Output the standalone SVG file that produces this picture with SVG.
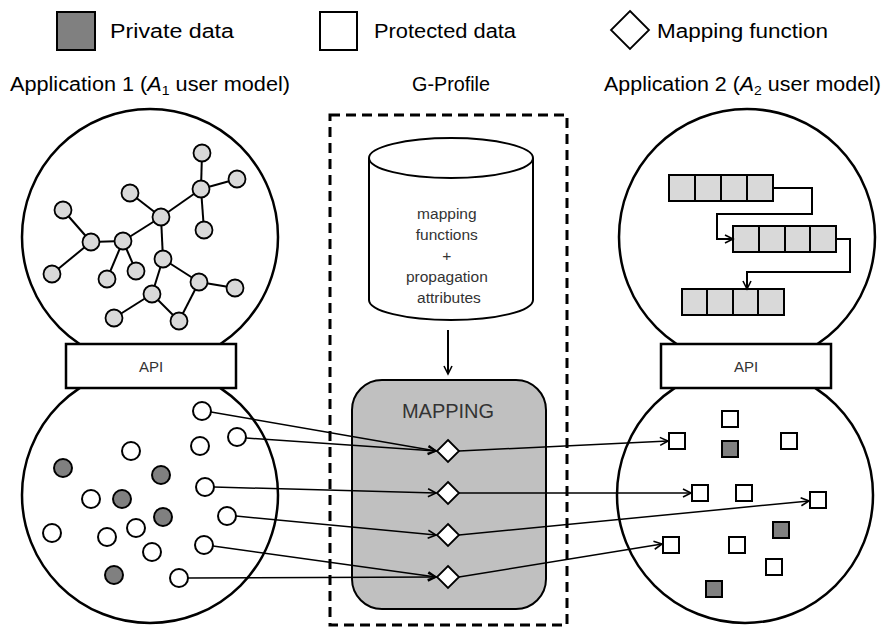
<svg xmlns="http://www.w3.org/2000/svg" width="886" height="627" viewBox="0 0 886 627">
  <defs>
    <marker id="arrow" markerUnits="userSpaceOnUse" markerWidth="12" markerHeight="12" refX="10" refY="6" orient="auto">
      <path d="M2,2 L10,6 L2,10" fill="none" stroke="#000" stroke-width="1.6"/>
    </marker>
    <style>
      .label { font-family: "Liberation Sans", Arial, sans-serif; font-size: 20px; fill: #000; }
      .small { font-family: "Liberation Sans", Arial, sans-serif; fill: #333; text-anchor: middle; }
      .api-t { font-size: 15px; }
      .db-t { font-size: 15.5px; }
      .map-t { font-size: 20px; }
      .globe { fill: #fff; stroke: #000; stroke-width: 2.5; }
      .api { fill: #fff; stroke: #000; stroke-width: 2.5; }
      .gnode { fill: #d9d9d9; stroke: #000; stroke-width: 1.8; }
      .gedge { stroke: #000; stroke-width: 2; }
      .cell { fill: #d9d9d9; stroke: #000; stroke-width: 2; }
      .prot { fill: #fff; stroke: #000; stroke-width: 2; }
      .priv { fill: #808080; stroke: #000; stroke-width: 2; }
      .link { fill: none; stroke: #000; stroke-width: 1.5; }
      .link2 { fill: none; stroke: #000; stroke-width: 2; }
      .diamond { fill: #fff; stroke: #000; stroke-width: 1.8; }
    </style>
  </defs>

  <!-- legend -->
  <g id="legend">
    <rect x="57" y="12" width="38" height="38" class="priv"/>
    <text x="110" y="38" class="label" textLength="124" lengthAdjust="spacingAndGlyphs">Private data</text>
    <rect x="320" y="12" width="37" height="38" class="prot"/>
    <text x="374" y="38" class="label" textLength="142" lengthAdjust="spacingAndGlyphs">Protected data</text>
    <polygon points="630,11 649,30 630,49 611,30" class="diamond"/>
    <text x="657" y="38" class="label" textLength="171" lengthAdjust="spacingAndGlyphs">Mapping function</text>
  </g>

  <!-- column titles -->
  <g id="titles">
    <text x="10" y="91" class="label" textLength="280" lengthAdjust="spacingAndGlyphs">Application 1 (<tspan font-style="italic">A</tspan><tspan font-size="13" dy="4">1</tspan><tspan dy="-4"> user model)</tspan></text>
    <text x="412" y="91" class="label" textLength="78" lengthAdjust="spacingAndGlyphs">G-Profile</text>
    <text x="604" y="91" class="label" textLength="277" lengthAdjust="spacingAndGlyphs">Application 2 (<tspan font-style="italic">A</tspan><tspan font-size="13" dy="4">2</tspan><tspan dy="-4"> user model)</tspan></text>
  </g>

  <!-- application 1 -->
  <g id="app1-model">
    <circle cx="150" cy="237" r="128" class="globe"/>
    <g id="app1-graph-edges">
      <line x1="202" y1="153" x2="201" y2="189" class="gedge"/>
      <line x1="237" y1="179" x2="201" y2="189" class="gedge"/>
      <line x1="201" y1="189" x2="204" y2="230" class="gedge"/>
      <line x1="201" y1="189" x2="161" y2="217" class="gedge"/>
      <line x1="130" y1="193" x2="161" y2="217" class="gedge"/>
      <line x1="161" y1="217" x2="123" y2="241" class="gedge"/>
      <line x1="161" y1="217" x2="163" y2="259" class="gedge"/>
      <line x1="63" y1="210" x2="91" y2="242" class="gedge"/>
      <line x1="91" y1="242" x2="123" y2="241" class="gedge"/>
      <line x1="91" y1="242" x2="52" y2="274" class="gedge"/>
      <line x1="123" y1="241" x2="107" y2="279" class="gedge"/>
      <line x1="123" y1="241" x2="136" y2="271" class="gedge"/>
      <line x1="163" y1="259" x2="199" y2="282" class="gedge"/>
      <line x1="163" y1="259" x2="152" y2="294" class="gedge"/>
      <line x1="199" y1="282" x2="235" y2="288" class="gedge"/>
      <line x1="199" y1="282" x2="179" y2="321" class="gedge"/>
      <line x1="152" y1="294" x2="114" y2="318" class="gedge"/>
      <line x1="152" y1="294" x2="179" y2="321" class="gedge"/>
    </g>
    <g id="app1-graph-nodes">
      <circle cx="202" cy="153" r="8.5" class="gnode"/>
      <circle cx="237" cy="179" r="8.5" class="gnode"/>
      <circle cx="201" cy="189" r="8.5" class="gnode"/>
      <circle cx="204" cy="230" r="8.5" class="gnode"/>
      <circle cx="130" cy="193" r="8.5" class="gnode"/>
      <circle cx="161" cy="217" r="8.5" class="gnode"/>
      <circle cx="63" cy="210" r="8.5" class="gnode"/>
      <circle cx="91" cy="242" r="8.5" class="gnode"/>
      <circle cx="123" cy="241" r="8.5" class="gnode"/>
      <circle cx="52" cy="274" r="8.5" class="gnode"/>
      <circle cx="107" cy="279" r="8.5" class="gnode"/>
      <circle cx="136" cy="271" r="8.5" class="gnode"/>
      <circle cx="163" cy="259" r="8.5" class="gnode"/>
      <circle cx="199" cy="282" r="8.5" class="gnode"/>
      <circle cx="235" cy="288" r="8.5" class="gnode"/>
      <circle cx="152" cy="294" r="8.5" class="gnode"/>
      <circle cx="114" cy="318" r="8.5" class="gnode"/>
      <circle cx="179" cy="321" r="8.5" class="gnode"/>
    </g>
  </g>
  <g id="app1-data-globe">
    <circle cx="150" cy="495" r="128" class="globe"/>
  </g>
  <g id="app1-api">
    <rect x="66" y="344" width="170" height="44" class="api"/>
    <text x="151" y="372" class="small api-t">API</text>
  </g>

  <!-- application 2 -->
  <g id="app2-model">
    <circle cx="747" cy="237" r="128" class="globe"/>
    <g id="app2-list1">
      <rect x="669" y="175" width="26" height="26" class="cell"/>
      <rect x="695" y="175" width="26" height="26" class="cell"/>
      <rect x="721" y="175" width="26" height="26" class="cell"/>
      <rect x="747" y="175" width="26" height="26" class="cell"/>
    </g>
    <g id="app2-list2">
      <rect x="733" y="226" width="26" height="26" class="cell"/>
      <rect x="759" y="226" width="26" height="26" class="cell"/>
      <rect x="785" y="226" width="25" height="26" class="cell"/>
      <rect x="810" y="226" width="26" height="26" class="cell"/>
    </g>
    <g id="app2-list3">
      <rect x="682" y="289" width="25" height="26" class="cell"/>
      <rect x="707" y="289" width="26" height="26" class="cell"/>
      <rect x="733" y="289" width="25" height="26" class="cell"/>
      <rect x="758" y="289" width="26" height="26" class="cell"/>
    </g>
    <g id="app2-list-links">
      <polyline points="773,188 812,188 812,214 717,214 717,239 733,239" class="link2" marker-end="url(#arrow)"/>
      <polyline points="836,239 850,239 850,272 747,272 747,289" class="link2" marker-end="url(#arrow)"/>
    </g>
  </g>
  <g id="app2-data-globe">
    <circle cx="745" cy="495" r="128" class="globe"/>
  </g>
  <g id="app2-api">
    <rect x="661" y="344" width="170" height="44" class="api"/>
    <text x="746" y="372" class="small api-t">API</text>
  </g>

  <!-- G-Profile -->
  <g id="gprofile">
    <rect x="330" y="115" width="237" height="510" fill="none" stroke="#000" stroke-width="3" stroke-dasharray="10,6"/>
  </g>
  <g id="store">
    <path d="M369,158 L369,300 A82,20 0 0 0 533,300 L533,158" fill="#fff" stroke="#000" stroke-width="2"/>
    <ellipse cx="451" cy="158" rx="82" ry="20" fill="#fff" stroke="#000" stroke-width="2"/>
    <text class="small db-t">
      <tspan x="449" y="219">mapping</tspan>
      <tspan x="449" y="240">functions</tspan>
      <tspan x="449" y="261">+</tspan>
      <tspan x="449" y="282">propagation</tspan>
      <tspan x="449" y="303">attributes</tspan>
    </text>
  </g>
  <g id="mapping">
    <rect x="352" y="380" width="194" height="229" rx="30" ry="30" fill="#c0c0c0" stroke="#000" stroke-width="2"/>
    <text x="448" y="418" class="small map-t">MAPPING</text>
  </g>

  <!-- connectors -->
  <g id="connectors">
    <line x1="448" y1="330" x2="448" y2="374" class="link2" marker-end="url(#arrow)"/>
    <line x1="211" y1="412" x2="436" y2="451" class="link" marker-end="url(#arrow)"/>
    <line x1="246" y1="438" x2="436" y2="451" class="link" marker-end="url(#arrow)"/>
    <line x1="214" y1="487" x2="436" y2="493" class="link" marker-end="url(#arrow)"/>
    <line x1="236" y1="516" x2="436" y2="535" class="link" marker-end="url(#arrow)"/>
    <line x1="213" y1="546" x2="436" y2="577" class="link" marker-end="url(#arrow)"/>
    <line x1="188" y1="578" x2="436" y2="577" class="link" marker-end="url(#arrow)"/>
    <line x1="459" y1="451" x2="668" y2="441" class="link" marker-end="url(#arrow)"/>
    <line x1="459" y1="493" x2="691" y2="493" class="link" marker-end="url(#arrow)"/>
    <line x1="459" y1="535" x2="809" y2="501" class="link" marker-end="url(#arrow)"/>
    <line x1="459" y1="577" x2="662" y2="544" class="link" marker-end="url(#arrow)"/>
  </g>

  <!-- mapping functions -->
  <g id="functions">
    <polygon points="448,440 459,451 448,462 437,451" class="diamond"/>
    <polygon points="448,482 459,493 448,504 437,493" class="diamond"/>
    <polygon points="448,524 459,535 448,546 437,535" class="diamond"/>
    <polygon points="448,566 459,577 448,588 437,577" class="diamond"/>
  </g>

  <!-- application 1 data items -->
  <g id="app1-data">
    <circle cx="202" cy="411" r="9" class="prot"/>
    <circle cx="237" cy="437" r="9" class="prot"/>
    <circle cx="200" cy="446" r="9" class="prot"/>
    <circle cx="131" cy="451" r="9" class="prot"/>
    <circle cx="205" cy="487" r="9" class="prot"/>
    <circle cx="91" cy="499" r="9" class="prot"/>
    <circle cx="227" cy="516" r="9" class="prot"/>
    <circle cx="136" cy="528" r="9" class="prot"/>
    <circle cx="52" cy="533" r="9" class="prot"/>
    <circle cx="107" cy="537" r="9" class="prot"/>
    <circle cx="204" cy="545" r="9" class="prot"/>
    <circle cx="152" cy="552" r="9" class="prot"/>
    <circle cx="179" cy="578" r="9" class="prot"/>
    <circle cx="63" cy="468" r="9" class="priv"/>
    <circle cx="161" cy="475" r="9" class="priv"/>
    <circle cx="122" cy="499" r="9" class="priv"/>
    <circle cx="163" cy="517" r="9" class="priv"/>
    <circle cx="114" cy="575" r="9" class="priv"/>
  </g>

  <!-- application 2 data items -->
  <g id="app2-data">
    <rect x="722" y="411" width="16" height="16" class="prot"/>
    <rect x="669" y="433" width="16" height="16" class="prot"/>
    <rect x="781" y="433" width="16" height="16" class="prot"/>
    <rect x="692" y="485" width="16" height="16" class="prot"/>
    <rect x="736" y="485" width="16" height="16" class="prot"/>
    <rect x="810" y="492" width="16" height="16" class="prot"/>
    <rect x="663" y="537" width="16" height="16" class="prot"/>
    <rect x="729" y="537" width="16" height="16" class="prot"/>
    <rect x="766" y="559" width="16" height="16" class="prot"/>
    <rect x="722" y="441" width="16" height="16" class="priv"/>
    <rect x="773" y="522" width="16" height="16" class="priv"/>
    <rect x="706" y="581" width="16" height="16" class="priv"/>
  </g>
</svg>
